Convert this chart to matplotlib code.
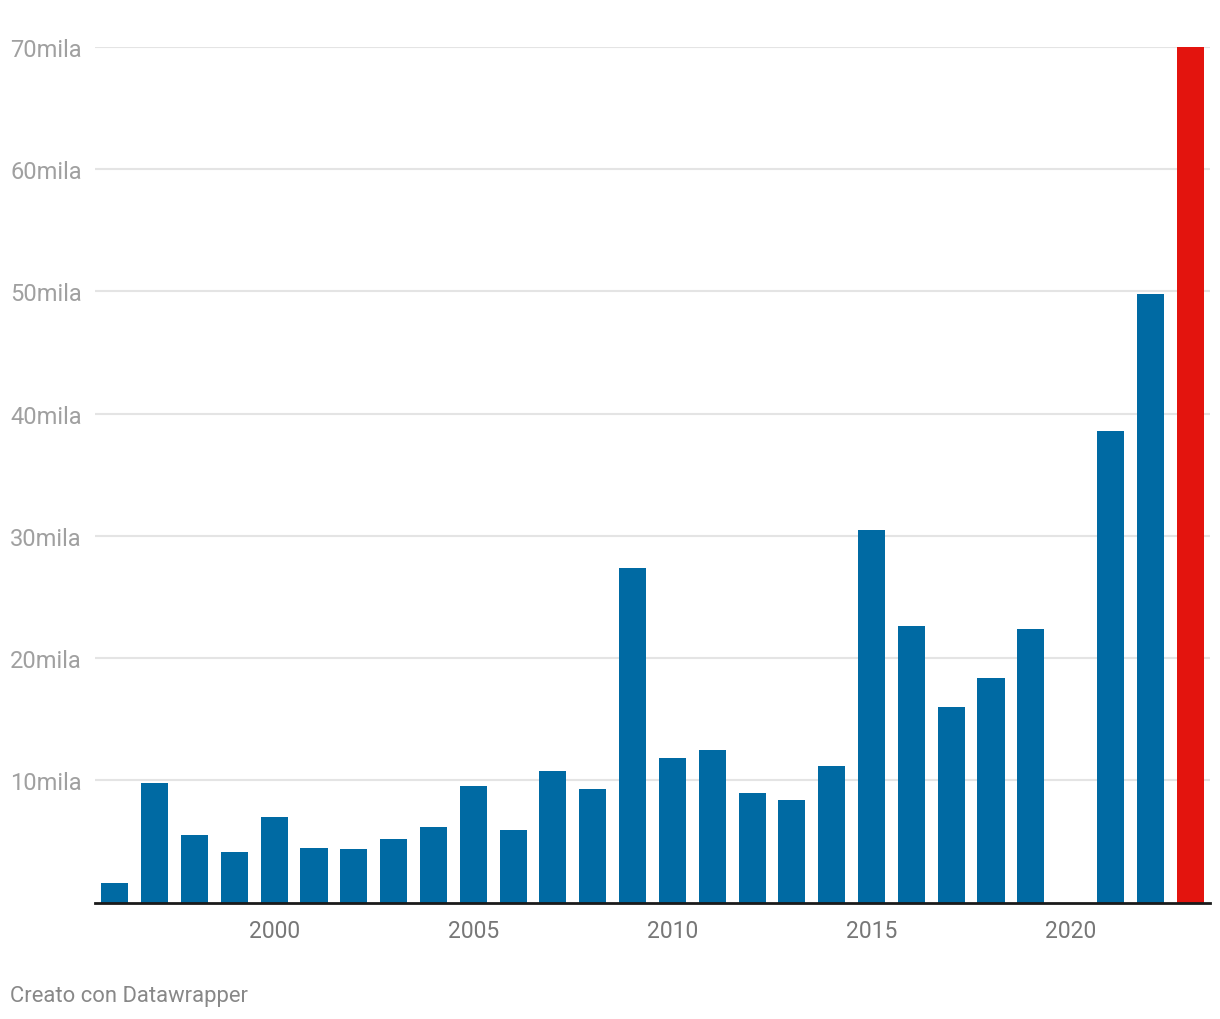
import matplotlib.pyplot as plt

# Annual values, thousands ("mila"); 2020 has no data (bar missing)
YEARS = list(range(1996, 2024))
VALUES = [
    1.6, 9.8, 5.5, 4.1, 7.0, 4.5, 4.4, 5.2, 6.2, 9.5,
    5.9, 10.8, 9.3, 27.4, 11.8, 12.5, 9.0, 8.4, 11.2, 30.5,
    22.6, 16.0, 18.4, 22.4, 0.0, 38.6, 49.8, 70.0,
]
HIGHLIGHT_YEAR = 2023
Y_TICKS = [10, 20, 30, 40, 50, 60, 70]
Y_TICK_LABELS = [f"{v}mila" for v in Y_TICKS]
X_TICKS = [2000, 2005, 2010, 2015, 2020]
FOOTER = "Creato con Datawrapper"

BLUE = "#006aa3"
RED = "#e3140e"

plt.rcParams["font.family"] = ["Roboto", "DejaVu Sans"]

W, H, DPI = 1220, 1020, 100
fig = plt.figure(figsize=(W / DPI, H / DPI), dpi=DPI)
ax = fig.add_axes([95 / W, (H - 903.5) / H, (1210 - 95) / W, (903.5 - 48) / H])

colors = [RED if y == HIGHLIGHT_YEAR else BLUE for y in YEARS]
ax.bar(YEARS, VALUES, width=0.68, color=colors, zorder=3)

ax.set_xlim(1995.5, 2023.5)
ax.set_ylim(0, 70)

ax.set_yticks(Y_TICKS)
ax.set_yticklabels(Y_TICK_LABELS)
ax.tick_params(axis="y", length=0, pad=61, labelsize=17, labelcolor="#a0a0a0")
for lbl in ax.get_yticklabels():
    lbl.set_horizontalalignment("left")
ax.yaxis.grid(True, color="#e4e4e4", linewidth=1.5, zorder=0)

ax.set_xticks(X_TICKS)
ax.tick_params(axis="x", length=0, pad=12, labelsize=16.5, labelcolor="#777777")

for side in ("left", "right", "top"):
    ax.spines[side].set_visible(False)
ax.spines["bottom"].set_color("#1a1a1a")
ax.spines["bottom"].set_linewidth(2)
ax.spines["bottom"].set_zorder(4)

fig.text(10 / W, 1 - 997 / H, FOOTER, ha="left", va="center",
         fontsize=15.8, color="#888888")

fig.savefig("out.png", dpi=DPI)
